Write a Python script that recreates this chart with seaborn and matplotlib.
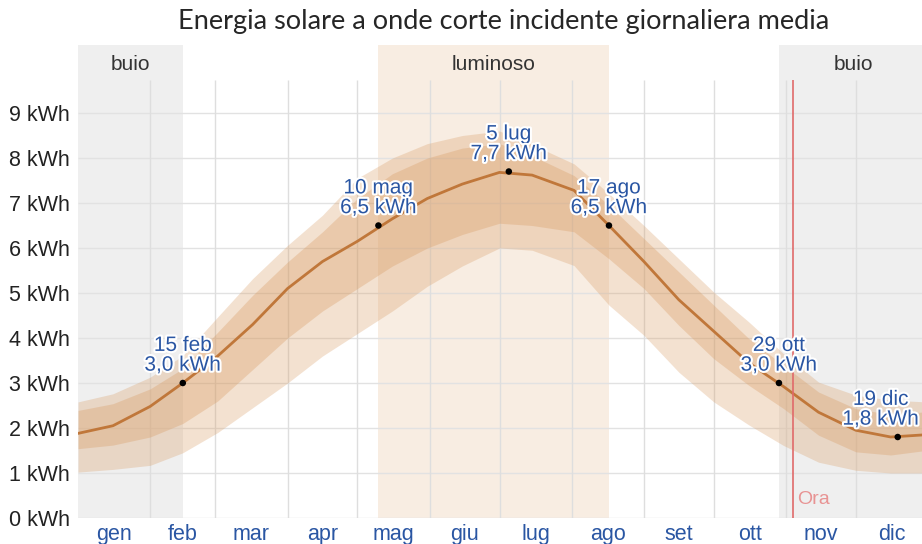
import matplotlib
matplotlib.use("Agg")
import matplotlib.pyplot as plt
import seaborn as sns
import pandas as pd
from matplotlib import patheffects as pe

# ---------------- data ----------------
days = [0, 15, 31, 45, 60, 75, 90, 105, 120, 135, 150, 165, 181,
        195, 213, 228, 243, 258, 273, 288, 303, 318, 334, 349, 364]
median = [1.88, 2.05, 2.48, 3.00, 3.60, 4.30, 5.10, 5.70, 6.15, 6.65, 7.10, 7.42, 7.68,
          7.62, 7.28, 6.50, 5.70, 4.85, 4.15, 3.45, 2.92, 2.35, 1.95, 1.80, 1.85]
p90 = [2.58, 2.76, 3.13, 3.61, 4.47, 5.32, 6.06, 6.73, 7.55, 8.00, 8.32, 8.50, 8.60,
       8.30, 7.87, 7.21, 6.50, 5.76, 5.02, 4.36, 3.65, 3.02, 2.73, 2.62, 2.58]
p75 = [2.39, 2.54, 2.87, 3.32, 4.13, 4.95, 5.69, 6.36, 7.10, 7.65, 8.00, 8.22, 8.32,
       8.05, 7.61, 6.95, 6.21, 5.47, 4.73, 3.99, 3.39, 2.80, 2.43, 2.30, 2.36]
p25 = [1.54, 1.62, 1.80, 2.10, 2.60, 3.30, 4.00, 4.60, 5.10, 5.60, 6.00, 6.30, 6.55,
       6.50, 6.36, 5.76, 5.10, 4.28, 3.54, 2.95, 2.43, 1.84, 1.47, 1.40, 1.50]
p10 = [1.02, 1.08, 1.17, 1.45, 1.90, 2.45, 3.00, 3.60, 4.10, 4.60, 5.15, 5.60, 6.00,
       5.95, 5.61, 4.73, 4.06, 3.24, 2.58, 2.07, 1.61, 1.24, 1.06, 1.00, 1.00]

hl_days = [45, 129, 185, 228, 301, 352]
hl_vals = [3.0, 6.5, 7.7, 6.5, 3.0, 1.8]
hl_dates = ["15 feb", "10 mag", "5 lug", "17 ago", "29 ott", "19 dic"]

month_starts = [0, 31, 59, 90, 120, 151, 181, 212, 243, 273, 304, 334, 365]
month_names = ["gen", "feb", "mar", "apr", "mag", "giu", "lug", "ago", "set", "ott", "nov", "dic"]
y_ticks = [0, 1, 2, 3, 4, 5, 6, 7, 8, 9]

dark_periods = [(0, 45), (301, 365)]
light_period = (129, 228)
now_day = 307

title = "Energia solare a onde corte incidente giornaliera media"

# ---------------- style ----------------
sns.set_style("white")
plt.rcParams["font.family"] = ["Liberation Sans", "DejaVu Sans"]

df = pd.DataFrame({"day": days, "median": median, "p90": p90, "p75": p75,
                   "p25": p25, "p10": p10})
hl = pd.DataFrame({"day": hl_days, "val": hl_vals, "date": hl_dates})

W, H = 922, 544
fig = plt.figure(figsize=(W / 100, H / 100), dpi=100)
left, right, bottom, top = 78, 928, 518, 45
ax = fig.add_axes([left / W, (H - bottom) / H, (right - left) / W, (bottom - top) / H])
ymax = (bottom - top) / 45.0
grid_top = (bottom - 80) / 45.0
ax.set_xlim(0, 365)
ax.set_ylim(0, ymax)

# background periods
for a, b in dark_periods:
    ax.axvspan(a, b, color="#efefef", zorder=0, lw=0)
ax.axvspan(light_period[0], light_period[1], color="#f8ede2", zorder=0, lw=0)

# grid
ax.hlines(y_ticks, 0, 365, color="#e2e2e2", lw=1, zorder=1)
ax.vlines(month_starts[1:-1], 0, grid_top, color="#dedede", lw=1, zorder=1)

# bands
band_col = "#d99d66"
ax.fill_between(df["day"], df["p10"], df["p90"], color=band_col, alpha=0.30, lw=0, zorder=2)
ax.fill_between(df["day"], df["p25"], df["p75"], color=band_col, alpha=0.34, lw=0, zorder=2)

# median line
sns.lineplot(data=df, x="day", y="median", ax=ax, color="#c0773a", lw=2, zorder=3)

# now line
ax.vlines([now_day], 0, grid_top, color="#e06a6a", lw=1.2, zorder=3)
ax.text(now_day + 2, 0.42, "Ora", color="#e89393", fontsize=14, ha="left", va="center", zorder=5)

# highlight points
sns.scatterplot(data=hl, x="day", y="val", ax=ax, color="black", s=22, zorder=4,
                edgecolor="none", legend=False)
fig.canvas.draw()
renderer = fig.canvas.get_renderer()
for d, v, lab in zip(hl_days, hl_vals, hl_dates):
    txt = f"{lab}\n{v:.1f} kWh".replace(".", ",")
    an = ax.annotate(txt, (d, v), xytext=(0, 6), textcoords="offset points",
                     ha="center", va="bottom", fontsize=15, color="#2a56a3",
                     linespacing=1.05, zorder=5,
                     path_effects=[pe.withStroke(linewidth=3, foreground="white")])
    # keep label inside the figure
    bb = an.get_window_extent(renderer)
    overflow = bb.x1 - (W - 3)
    if overflow > 0:
        an.set_position((-overflow * 72 / 100, 6))

# period labels
label_y = (bottom - 65) / 45.0
for a, b in dark_periods:
    ax.text((a + b) / 2, label_y, "buio", ha="center", va="center", fontsize=15, color="#333333")
ax.text(sum(light_period) / 2, label_y, "luminoso", ha="center", va="center",
        fontsize=15, color="#333333")

# axes ticks
ax.set_yticks(y_ticks)
ax.set_yticklabels([f"{v} kWh" for v in y_ticks], fontsize=15.5, color="#222222")
mids = [(month_starts[i] + month_starts[i + 1]) / 2 for i in range(12)]
ax.set_xticks(mids)
ax.set_xticklabels(month_names, fontsize=15.5, color="#2a56a3")
ax.tick_params(axis="both", length=0)
ax.tick_params(axis="y", pad=6)
ax.tick_params(axis="x", pad=4)
ax.set_xlabel("")
ax.set_ylabel("")
for s in ax.spines.values():
    s.set_visible(False)

fig.text(504 / W, (H - 22) / H, title, ha="center", va="center", fontsize=19.5,
         color="#262626", family=["Lato", "DejaVu Sans"])

fig.savefig("out.png", dpi=100)
